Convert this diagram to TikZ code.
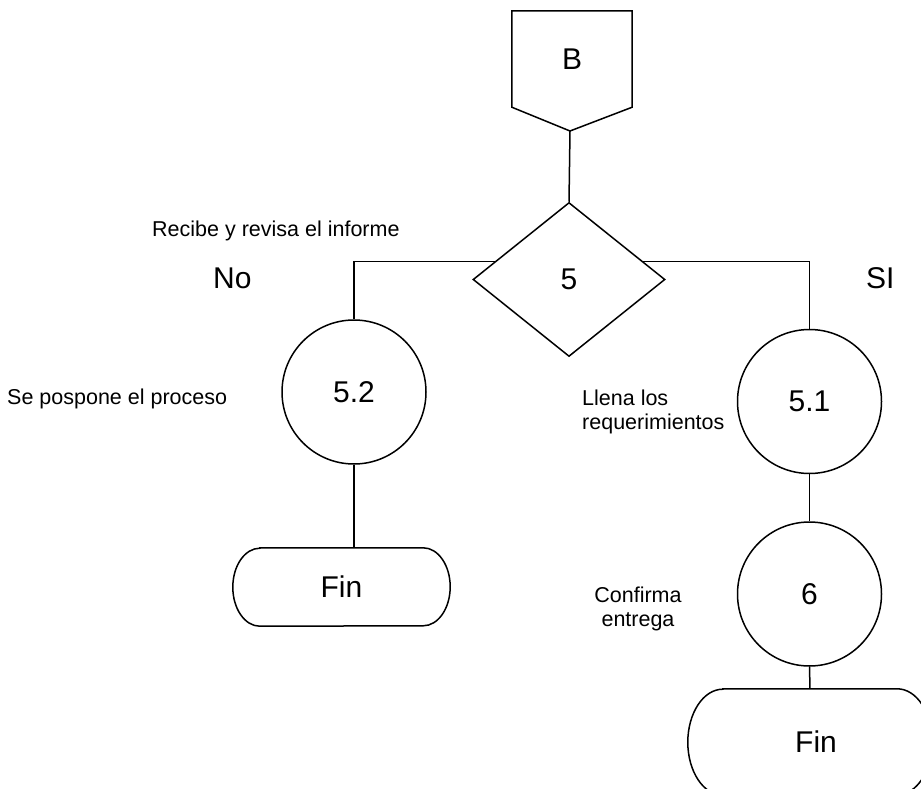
\documentclass[tikz,border=0pt]{standalone}
\usepackage{fontspec}
\setmainfont{Liberation Sans}
\usetikzlibrary{shapes.geometric,backgrounds,calc}
\begin{document}
\begin{tikzpicture}[x=1pt,y=-1pt,
  ln/.style={line width=1.5pt,black},
  bigtxt/.style={font=\fontsize{30}{34}\selectfont},
  smalltxt/.style={font=\fontsize{21.5}{24}\selectfont,inner sep=0pt},
  circ/.style={ln,draw,fill=white,circle,minimum size=144pt,inner sep=0pt,bigtxt},
  dia/.style={ln,draw,fill=white,diamond,minimum width=192pt,minimum height=154pt,inner sep=0pt,bigtxt},
  boxn/.style={inner sep=0pt,bigtxt}
]
\path[use as bounding box] (0,0) rectangle (921,789);
\clip (0,0) rectangle (921,789);

% off-page connector
\node[boxn,minimum width=120pt,minimum height=96pt] (B) at (572,59) {B};
\coordinate (Btip) at (570,131);
\draw[ln,line join=miter] (B.north west) -- (B.north east) -- (B.south east) -- (Btip) -- (B.south west) -- cycle;

% decision
\node[dia] (d5) at (569,279.5) {5};

% circles
\node[circ] (c52) at (354,392) {5.2};
\node[circ] (c51) at (809.5,401.5) {5.1};
\node[circ] (c6) at (809.5,594) {6};

% terminators
\node[boxn,minimum width=217pt,minimum height=78pt] (finL) at (341.5,587) {Fin};
\draw[ln] ([xshift=27pt]finL.north west) -- ([xshift=-27pt]finL.north east)
  arc[start angle=90,end angle=-90,x radius=27pt,y radius=39pt]
  -- ([xshift=27pt]finL.south west)
  arc[start angle=270,end angle=90,x radius=27pt,y radius=39pt] -- cycle;

\node[boxn,minimum width=244pt,minimum height=106pt] (finR) at (810,742) {\hspace*{12pt}Fin};
\draw[ln] ([xshift=35pt]finR.north west) -- ([xshift=-35pt]finR.north east)
  arc[start angle=90,end angle=-90,x radius=35pt,y radius=53pt]
  -- ([xshift=35pt]finR.south west)
  arc[start angle=270,end angle=90,x radius=35pt,y radius=53pt] -- cycle;

% connectors
\begin{scope}[on background layer]
\coordinate (hl) at ($(d5.center)+(0,-18)$);
\draw[ln] (Btip) -- (d5.north);
\draw[ln] (c52.north) |- (hl);
\draw[ln] (c51.north) |- (hl);
\draw[ln] (c52.south) -- (c52.south |- finL.north);
\draw[ln] (c51.south) -- (c6.north);
\draw[ln] (c6.south) -- (finR.north);
\end{scope}

% labels
\node[smalltxt,anchor=base west] (lrec) at (152,236) {Recibe y revisa el informe};
\node[bigtxt,inner sep=0pt,anchor=base west] (lno) at (213,288) {No};
\node[bigtxt,inner sep=0pt,anchor=base west] (lsi) at (866,288) {SI};
\node[smalltxt,anchor=base west] (lpos) at (7,404) {Se pospone el proceso};
\node[smalltxt,anchor=base west,align=left] (llen) at (582,429) {Llena los\\ requerimientos};
\node[smalltxt,anchor=base,align=center] (lconf) at (638,626) {Confirma\\entrega};
\end{tikzpicture}
\end{document}
